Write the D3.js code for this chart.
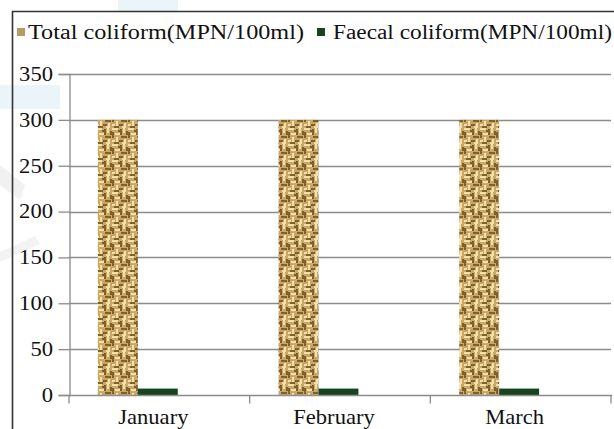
<!DOCTYPE html>
<html>
<head>
<meta charset="utf-8">
<script src="https://cdn.jsdelivr.net/npm/d3@7"></script>
<style>
  html, body { margin: 0; padding: 0; background: #fff; }
  svg { display: block; }
  text { font-family: "Liberation Serif", "Times New Roman", serif; }
</style>
</head>
<body>
<svg id="chart" width="614" height="429"></svg>
<script>
// ---- data ----
const categories = ["January", "February", "March"];
const seriesNames = ["Total coliform(MPN/100ml)", "Faecal coliform(MPN/100ml)"];
const totalColiform = [300, 300, 300];
const faecalColiform = [7, 7, 7];
const yTicks = [0, 50, 100, 150, 200, 250, 300, 350];

const W = 614, H = 429;
const FS = 20, SX = 1.13; // font size and horizontal stretch of the reference text
const svg = d3.select("#chart");

// ---- texture pattern (woven burlap) ----
const defs = svg.append("defs");
const pat = defs.append("pattern").attr("id", "weave")
  .attr("patternUnits", "userSpaceOnUse").attr("width", 16).attr("height", 16);
pat.append("rect").attr("width", 16).attr("height", 16).attr("fill", "#c9a865");
const dark = "#7f5f2e", light = "#f2e0ab";
[[0,0,6,2,light],[8,1,2,6,dark],[11,0,2,5,light],[0,4,2,6,dark],[3,5,5,2,light],
 [4,9,2,5,light],[9,8,6,2,dark],[12,11,2,5,light],[0,12,3,2,light],[7,12,4,2,dark],
 [14,3,2,4,dark],[2,14,5,2,dark],[10,14,3,2,light],[6,2,2,2,dark]].forEach(d => {
  pat.append("rect").attr("x", d[0]).attr("y", d[1]).attr("width", d[2]).attr("height", d[3]).attr("fill", d[4]);
});
const colors = ["url(#weave)", "#17431f"];

// ---- faint watermark ----
svg.append("rect").attr("x", 0).attr("y", 85).attr("width", 60).attr("height", 24).attr("fill", "#eaf4f9");
svg.append("rect").attr("x", 118).attr("y", 0).attr("width", 60).attr("height", 11).attr("fill", "#eaf4f9");
svg.append("path").attr("d", "M0,165 L25,185 L20,200 L0,185 Z").attr("fill", "#f1f1f1");
svg.append("path").attr("d", "M0,252 L35,236 L40,244 L0,262 Z").attr("fill", "#f3f3f3");

// ---- frame ----
svg.append("path").attr("d", `M12.5,${H} V11.5 H${W}`).attr("fill", "none")
  .attr("stroke", "#333").attr("stroke-width", 1.6);

// ---- scales ----
const plotL = 69, plotR = 611, plotT = 74, plotB = 395;
const x0 = d3.scaleBand().domain(categories).range([plotL, plotR]).paddingInner(0).paddingOuter(0);
const x1 = d3.scaleBand().domain(seriesNames)
  .range([x0.bandwidth() * 0.16, x0.bandwidth() * 0.602]).padding(0);
const y = d3.scaleLinear().domain([0, 350]).range([plotB, plotT]);

// ---- gridlines ----
svg.append("g").selectAll("line").data(yTicks.filter(t => t > 0)).join("line")
  .attr("x1", plotL).attr("x2", plotR)
  .attr("y1", d => Math.round(y(d)) + 0.5).attr("y2", d => Math.round(y(d)) + 0.5)
  .attr("stroke", "#8c8c8c").attr("stroke-width", 1.3);

// ---- bars ----
const seriesData = [totalColiform, faecalColiform];
seriesNames.forEach((s, si) => {
  svg.append("g").selectAll("rect").data(categories).join("rect")
    .attr("x", c => x0(c) + x1(s))
    .attr("width", x1.bandwidth())
    .attr("y", (c, i) => y(seriesData[si][i]))
    .attr("height", (c, i) => plotB - y(seriesData[si][i]))
    .attr("fill", colors[si]);
});

// ---- y axis ----
const yAxis = svg.append("g").attr("transform", `translate(${plotL + 0.5},0)`)
  .call(d3.axisLeft(y).tickValues(yTicks).tickSize(11).tickPadding(5).tickFormat(d3.format("d")));
yAxis.select(".domain").attr("stroke", "#8c8c8c").attr("stroke-width", 1.3);
yAxis.selectAll(".tick line").attr("stroke", "#8c8c8c").attr("stroke-width", 1.3);
yAxis.selectAll(".tick text").attr("font-size", FS).attr("fill", "#111")
  .attr("font-family", "Liberation Serif, Times New Roman, serif")
  .attr("x", -16.5 / SX)
  .attr("transform", `scale(${SX},1)`);

// ---- x axis ----
const xAxisG = svg.append("g").attr("transform", `translate(0,${plotB + 0.5})`);
xAxisG.append("line").attr("x1", plotL).attr("x2", plotR + 1)
  .attr("stroke", "#8c8c8c").attr("stroke-width", 1.3);
const boundaries = categories.map(c => x0(c)).concat([x0(categories[categories.length - 1]) + x0.bandwidth()]);
xAxisG.selectAll("line.tk").data(boundaries).join("line").attr("class", "tk")
  .attr("x1", d => d).attr("x2", d => d).attr("y1", 0).attr("y2", 8)
  .attr("stroke", "#8c8c8c").attr("stroke-width", 1.3);
xAxisG.selectAll("text").data(categories).join("text")
  .attr("transform", c => `translate(${x0(c) + x0.bandwidth() / 2 - 6},28) scale(${SX},1)`)
  .attr("text-anchor", "middle").attr("font-size", FS).attr("fill", "#111")
  .text(c => c);

// ---- legend ----
const legend = svg.append("g");
const legendX = [17, 317];
const legendTextX = [28, 333];
const legendTextW = [276, 279];
seriesNames.forEach((s, i) => {
  legend.append("rect").attr("x", legendX[i]).attr("y", 28).attr("width", 8).attr("height", 8)
    .attr("fill", i === 0 ? "#b89a62" : colors[1]);
  legend.append("text").attr("x", legendTextX[i]).attr("y", 39)
    .attr("font-size", FS).attr("fill", "#111")
    .attr("textLength", legendTextW[i]).attr("lengthAdjust", "spacingAndGlyphs")
    .text(s);
});
</script>
</body>
</html>
